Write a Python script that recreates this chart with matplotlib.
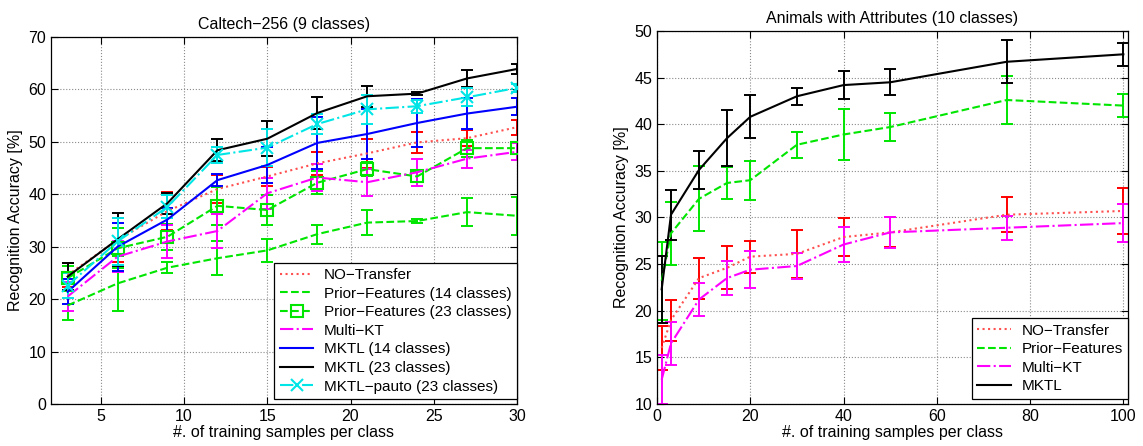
import matplotlib
matplotlib.use("Agg")
import matplotlib.pyplot as plt
import numpy as np

plt.rcParams['font.family'] = ['Liberation Sans', 'DejaVu Sans']
plt.rcParams['font.size'] = 11

# ---------------- Left: Caltech-256 ----------------
x_left = [3, 6, 9, 12, 15, 18, 21, 24, 27, 30]

no_transfer_l = [24.6, 31.3, 36.8, 41.0, 43.4, 45.9, 47.8, 49.9, 50.7, 52.8]
no_transfer_l_err = [2.2, 4.2, 3.7, 2.6, 1.8, 2.2, 2.8, 2.0, 1.5, 1.4]

pf14_l = [18.8, 23.0, 26.0, 27.8, 29.3, 32.4, 34.6, 34.9, 36.6, 35.9]
pf14_l_err = [2.8, 5.3, 1.1, 3.2, 2.2, 1.8, 2.4, 0.4, 2.6, 3.6]

pf23_l = [24.0, 29.7, 31.9, 37.8, 37.0, 42.2, 44.8, 43.4, 48.8, 48.8]
pf23_l_err = [2.3, 3.8, 2.5, 3.6, 2.8, 2.2, 1.4, 1.1, 1.6, 1.1]

multikt_l = [20.5, 28.1, 31.0, 33.0, 40.2, 43.2, 42.3, 44.2, 46.8, 48.1]
multikt_l_err = [2.8, 3.0, 3.2, 3.3, 3.0, 2.5, 2.6, 2.6, 1.7, 1.6]

mktl14_l = [21.4, 30.0, 35.2, 42.7, 45.6, 49.8, 51.5, 53.6, 55.4, 56.7]
mktl14_l_err = [2.4, 4.6, 2.2, 1.1, 3.5, 5.0, 4.8, 4.6, 2.9, 1.6]

mktl23_l = [24.3, 31.4, 38.3, 48.4, 50.6, 55.5, 58.7, 59.2, 62.1, 63.9]
mktl23_l_err = [2.6, 5.0, 2.0, 2.1, 3.3, 3.0, 2.0, 0.3, 1.6, 1.0]

pauto_l = [22.6, 31.0, 37.6, 47.5, 48.9, 53.4, 56.2, 56.8, 58.5, 60.3]
pauto_l_err = [2.4, 4.4, 2.2, 1.6, 3.5, 1.9, 2.7, 1.2, 1.7, 0.8]

# ---------------- Right: Animals with Attributes ----------------
x_right = [1, 3, 9, 15, 20, 30, 40, 50, 75, 100]

no_transfer_r = [16.0, 19.0, 23.5, 24.6, 25.8, 26.1, 27.9, 28.4, 30.3, 30.7]
no_transfer_r_err = [2.4, 2.2, 2.2, 2.3, 1.7, 2.6, 2.0, 1.6, 1.9, 2.5]

pf_r = [23.2, 28.3, 32.0, 33.7, 34.0, 37.8, 38.9, 39.7, 42.6, 42.0]
pf_r_err = [4.2, 3.4, 3.5, 1.7, 2.1, 1.4, 2.7, 1.5, 2.6, 1.2]

multikt_r = [12.6, 16.5, 21.2, 23.5, 24.4, 24.8, 27.1, 28.4, 28.9, 29.4]
multikt_r_err = [2.6, 2.3, 1.8, 1.8, 2.0, 1.4, 1.9, 1.7, 1.3, 2.0]

mktl_r = [22.3, 30.3, 35.1, 38.5, 40.8, 43.0, 44.2, 44.5, 46.7, 47.5]
mktl_r_err = [3.6, 2.7, 2.0, 3.0, 2.3, 0.9, 1.5, 1.4, 2.3, 1.25]

RED = '#ff0000'
RED_LINE = '#ff5050'
GREEN = '#00e600'
MAG = '#ff00ff'
BLUE = '#0000ff'
BLACK = '#000000'
CYAN = '#00e6e6'

fig = plt.figure(figsize=(11.43, 4.46), dpi=100)
axL = fig.add_axes([0.0446, 0.0942, 0.4077, 0.8228])
axR = fig.add_axes([0.5748, 0.0942, 0.4121, 0.8363])

def series(ax, x, y, e, color, lcolor, ls, label, marker=None, ms=8, mfc='none'):
    ax.errorbar(x, y, yerr=e, fmt='none', ecolor=color, elinewidth=1.4,
                capsize=4.5, capthick=1.4, zorder=2)
    h, = ax.plot(x, y, color=lcolor, ls=ls, lw=1.5, marker=marker, ms=ms,
                 mfc=mfc, mec=lcolor, mew=1.5, label=label, zorder=3)
    return h

M = '\u2212'
hs = []
hs.append(series(axL, x_left, no_transfer_l, no_transfer_l_err, RED, RED_LINE, ':', f'NO{M}Transfer'))
hs.append(series(axL, x_left, pf14_l, pf14_l_err, GREEN, GREEN, '--', f'Prior{M}Features (14 classes)'))
hs.append(series(axL, x_left, pf23_l, pf23_l_err, GREEN, GREEN, '--', f'Prior{M}Features (23 classes)', marker='s', ms=9))
hs.append(series(axL, x_left, multikt_l, multikt_l_err, MAG, MAG, '-.', f'Multi{M}KT'))
hs.append(series(axL, x_left, mktl14_l, mktl14_l_err, BLUE, BLUE, '-', 'MKTL (14 classes)'))
hs.append(series(axL, x_left, mktl23_l, mktl23_l_err, BLACK, BLACK, '-', 'MKTL (23 classes)'))
hs.append(series(axL, x_left, pauto_l, pauto_l_err, CYAN, CYAN, '-.', f'MKTL{M}pauto (23 classes)', marker='x', ms=9))

hr = []
hr.append(series(axR, x_right, no_transfer_r, no_transfer_r_err, RED, RED_LINE, ':', f'NO{M}Transfer'))
hr.append(series(axR, x_right, pf_r, pf_r_err, GREEN, GREEN, '--', f'Prior{M}Features'))
hr.append(series(axR, x_right, multikt_r, multikt_r_err, MAG, MAG, '-.', f'Multi{M}KT'))
hr.append(series(axR, x_right, mktl_r, mktl_r_err, BLACK, BLACK, '-', 'MKTL'))

for ax in (axL, axR):
    ax.grid(True, ls=':', color='#8a8a8a', lw=0.8)
    ax.set_axisbelow(True)
    ax.tick_params(direction='in', top=True, right=True, length=5, width=0.8, labelsize=11.5)
    for s in ax.spines.values():
        s.set_linewidth(0.9)
    ax.set_ylabel('Recognition Accuracy [%]', fontsize=11.5, labelpad=4)
    ax.set_xlabel('#. of training samples per class', fontsize=11.5, labelpad=1)

axL.set_xlim(2, 30)
axL.set_ylim(0, 70)
axL.set_xticks([5, 10, 15, 20, 25, 30])
axL.set_yticks(range(0, 71, 10))
axL.set_title(f'Caltech{M}256 (9 classes)', fontsize=11.5, pad=6)

axR.set_xlim(0, 101)
axR.set_ylim(10, 50)
axR.set_xticks(range(0, 101, 20))
axR.set_yticks(range(10, 51, 5))
axR.set_title('Animals with Attributes (10 classes)', fontsize=11.5, pad=6)

legkw = dict(loc='lower right', bbox_to_anchor=(1.0, 0.014), fontsize=11, fancybox=False,
             edgecolor='black', framealpha=1, borderaxespad=0, labelspacing=0.3,
             handlelength=2.2, handletextpad=0.7, borderpad=0.35)
lgL = axL.legend(handles=hs, **legkw)
lgR = axR.legend(handles=hr, **legkw)
for lg in (lgL, lgR):
    lg.get_frame().set_linewidth(0.9)

fig.savefig('out.png', dpi=100)
